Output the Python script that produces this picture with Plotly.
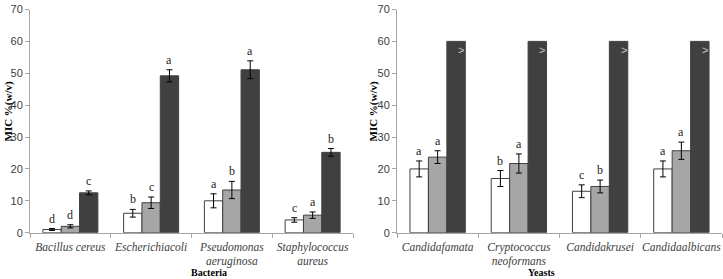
import plotly.graph_objects as go

# ---------------- data ----------------
bacteria = ["Bacillus cereus", "Escherichiacoli", "Pseudomonas<br>aeruginosa", "Staphylococcus<br>aureus"]
bac_white = [1.0, 6.1, 10.0, 4.0]
bac_white_err = [0.3, 1.2, 2.2, 0.7]
bac_gray = [2.0, 9.4, 13.4, 5.5]
bac_gray_err = [0.5, 1.8, 2.7, 1.0]
bac_dark = [12.5, 49.2, 51.1, 25.2]
bac_dark_err = [0.6, 1.9, 2.8, 1.2]
bac_white_let = ["d", "b", "a", "c"]
bac_gray_let = ["d", "c", "b", "a"]
bac_dark_let = ["c", "a", "a", "b"]

yeasts = ["Candidafamata", "Cryptococcus<br>neoformans", "Candidakrusei", "Candidaalbicans"]
yea_white = [20.0, 17.0, 13.0, 20.0]
yea_white_err = [2.5, 2.5, 2.0, 2.5]
yea_gray = [23.7, 21.7, 14.5, 25.7]
yea_gray_err = [2.0, 3.0, 2.0, 2.7]
yea_dark = [60, 60, 60, 60]
yea_white_let = ["a", "b", "c", "a"]
yea_gray_let = ["a", "a", "b", "a"]
yea_dark_mark = [">", ">", ">", ">"]

y_ticks = [0, 10, 20, 30, 40, 50, 60, 70]

# ---------------- style ----------------
W, H = 723, 279
BW = 0.227
C_WHITE, C_GRAY, C_DARK = "#ffffff", "#a6a6a6", "#404040"
AXC = "#a6a6a6"
SERIF = "Liberation Serif"
SANS = "Liberation Sans"

fig = go.Figure()

def add_panel(cats, series, xa, ya):
    idx = list(range(len(cats)))
    for k, (vals, errs, col) in enumerate(series):
        xs = [i + (k - 1) * BW for i in idx]
        fig.add_trace(go.Bar(
            x=xs, y=vals, width=BW, xaxis=xa, yaxis=ya,
            marker=dict(color=col, line=dict(color="#404040", width=1)),
            error_y=(dict(type="data", array=errs, color="#000000", thickness=1, width=3)
                     if errs is not None else dict(visible=False)),
            showlegend=False, hoverinfo="skip"))

add_panel(bacteria, [(bac_white, bac_white_err, C_WHITE),
                     (bac_gray, bac_gray_err, C_GRAY),
                     (bac_dark, bac_dark_err, C_DARK)], "x", "y")
add_panel(yeasts, [(yea_white, yea_white_err, C_WHITE),
                   (yea_gray, yea_gray_err, C_GRAY),
                   (yea_dark, None, C_DARK)], "x2", "y2")

ann = []
def letters(vals, errs, lets, k, xref, yref):
    for i, (v, e, t) in enumerate(zip(vals, errs, lets)):
        ann.append(dict(x=i + (k - 1) * BW, y=v + e, xref=xref, yref=yref, text=t,
                        showarrow=False, yanchor="bottom", yshift=1,
                        font=dict(family=SERIF, size=12, color="#222222")))

letters(bac_white, bac_white_err, bac_white_let, 0, "x", "y")
letters(bac_gray, bac_gray_err, bac_gray_let, 1, "x", "y")
letters(bac_dark, bac_dark_err, bac_dark_let, 2, "x", "y")
letters(yea_white, yea_white_err, yea_white_let, 0, "x2", "y2")
letters(yea_gray, yea_gray_err, yea_gray_let, 1, "x2", "y2")
for i, (v, t) in enumerate(zip(yea_dark, yea_dark_mark)):
    ann.append(dict(x=i + BW + BW * 0.28, y=v, xref="x2", yref="y2", text=t,
                    showarrow=False, yanchor="top", yshift=-1,
                    font=dict(family=SANS, size=11, color="#c8c8c8")))

# axis titles
for xp in (0, 365):
    ann.append(dict(x=xp / W, y=1 - 111 / H, xref="paper", yref="paper",
                    text="<b>MIC %(w/v)</b>", textangle=-90, showarrow=False,
                    xanchor="left", borderpad=0,
                    font=dict(family=SERIF, size=11, color="#000000")))
ann.append(dict(x=190 / W, y=0, xref="paper", yref="paper", text="<b>Bacteria</b>",
                showarrow=False, yanchor="bottom", borderpad=0,
                font=dict(family=SERIF, size=10, color="#000000")))
ann.append(dict(x=556 / W, y=0, xref="paper", yref="paper", text="<b>Yeasts</b>",
                showarrow=False, yanchor="bottom", borderpad=0,
                font=dict(family=SERIF, size=10, color="#000000")))

ydom = [1 - 232.7 / H, 1 - 9.5 / H]

def xaxis(dom, cats, anchor):
    return dict(domain=dom, anchor=anchor, range=[-0.5, 3.5],
                tickmode="array", tickvals=list(range(len(cats))),
                ticktext=["<i>" + c.replace("<br>", "</i><br><i>") + "</i>" for c in cats],
                ticks="", showline=True, linecolor=AXC, linewidth=1,
                showgrid=False, zeroline=False, automargin=False,
                tickfont=dict(family=SERIF, size=11.5, color="#404040"),
                ticklabelstandoff=3,
                minor=dict(tickmode="array", tickvals=[-0.5, 0.5, 1.5, 2.5, 3.5],
                           ticks="outside", ticklen=4, tickcolor=AXC, showgrid=False))

def yaxis(anchor):
    return dict(domain=ydom, anchor=anchor, range=[0, 70], tickmode="array",
                tickvals=y_ticks, ticks="outside", ticklen=4, tickcolor=AXC,
                showline=True, linecolor=AXC, linewidth=1, showgrid=False,
                zeroline=False, automargin=False,
                tickfont=dict(family=SANS, size=11, color="#404040"))

fig.update_layout(
    width=W, height=H, margin=dict(l=0, r=0, t=0, b=0),
    paper_bgcolor="white", plot_bgcolor="white", barmode="overlay",
    xaxis=xaxis([30 / W, 353 / W], bacteria, "y"),
    yaxis=yaxis("x"),
    xaxis2=xaxis([397 / W, 722 / W], yeasts, "y2"),
    yaxis2=yaxis("x2"),
    annotations=ann,
)

fig.write_html("out.html")
